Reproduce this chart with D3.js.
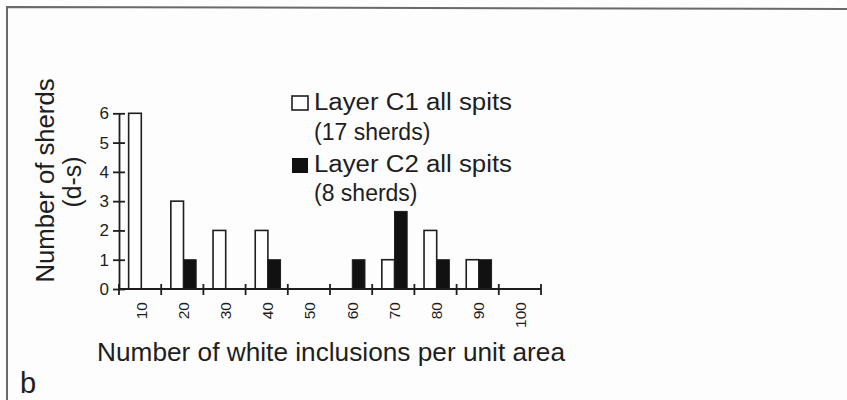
<!DOCTYPE html>
<html>
<head>
<meta charset="utf-8">
<script src="https://cdn.jsdelivr.net/npm/d3@7"></script>
<style>
  html, body { margin: 0; padding: 0; background: #fdfdfd; }
  svg text { font-family: "Liberation Sans", Arial, Helvetica, sans-serif; fill: #1e1e1e; }
</style>
</head>
<body>
<svg id="chart" width="847" height="400"></svg>
<script>
// Counts of sherds per white-inclusion density class
const categories = [10, 20, 30, 40, 50, 60, 70, 80, 90, 100];
const layerC1 = [6, 3, 2, 2, 0, 0, 1, 2, 1, 0];
const layerC2 = [0, 1, 0, 1, 0, 1, 2.65, 1, 1, 0];
const yTicks = [0, 1, 2, 3, 4, 5, 6];
const legendLabels = [
  ["Layer C1 all spits", "(17 sherds)"],
  ["Layer C2 all spits", "(8 sherds)"]
];
const xTitle = "Number of white inclusions per unit area";
const yTitle = ["Number of sherds", "(d-s)"];
const panelLabel = "b";

const svg = d3.select("#chart");
const ink = "#1e1e1e";

// panel frame (top and left edges)
svg.append("path")
  .attr("d", "M7,400 L7,7 L847,9")
  .attr("fill", "none").attr("stroke", "#6a6a6a").attr("stroke-width", 2);

const x = d3.scaleBand().domain(categories).range([119, 541]).padding(0);
const y = d3.scaleLinear().domain([0, 6]).range([289, 113.3]);
const barW = x.bandwidth() * 0.3;
const shift = 1.2;

const plot = svg.append("g");

// C1 bars (open) and C2 bars (solid) side by side in each class
plot.selectAll("rect.c1").data(categories.map((c, i) => ({c, v: layerC1[i]})).filter(d => d.v > 0))
  .join("rect").attr("class", "c1")
  .attr("x", d => x(d.c) + x.bandwidth() / 2 - barW + shift)
  .attr("y", d => y(d.v))
  .attr("width", barW)
  .attr("height", d => y(0) - y(d.v))
  .attr("fill", "#fff").attr("stroke", ink).attr("stroke-width", 1.6);

plot.selectAll("rect.c2").data(categories.map((c, i) => ({c, v: layerC2[i]})).filter(d => d.v > 0))
  .join("rect").attr("class", "c2")
  .attr("x", d => x(d.c) + x.bandwidth() / 2 + shift)
  .attr("y", d => y(d.v))
  .attr("width", barW)
  .attr("height", d => y(0) - y(d.v))
  .attr("fill", "#111").attr("stroke", ink).attr("stroke-width", 1);

// Y axis with ticks crossing the line
const yAxis = plot.append("g").attr("transform", "translate(119,0)")
  .call(d3.axisLeft(y).tickValues(yTicks).tickFormat(d3.format("d")).tickSize(6).tickSizeOuter(0));
yAxis.select(".domain").attr("stroke", ink).attr("stroke-width", 1.8);
yAxis.selectAll(".tick line").attr("x2", 6).attr("x1", -6).attr("stroke", ink).attr("stroke-width", 1.8);
yAxis.selectAll(".tick text").attr("x", -10).attr("font-size", 17).attr("fill", ink)
  .attr("font-family", "Liberation Sans, Arial, sans-serif");

// X axis: ticks on class boundaries, labels rotated at class centres
const xAxisG = plot.append("g");
xAxisG.append("line").attr("x1", 119).attr("x2", 541).attr("y1", y(0)).attr("y2", y(0))
  .attr("stroke", ink).attr("stroke-width", 1.8);
const bounds = categories.map(c => x(c)).concat([x(categories[categories.length - 1]) + x.bandwidth()]);
xAxisG.selectAll("line.tick").data(bounds).join("line").attr("class", "tick")
  .attr("x1", d => d).attr("x2", d => d).attr("y1", y(0) - 5).attr("y2", y(0) + 6)
  .attr("stroke", ink).attr("stroke-width", 1.8);
xAxisG.selectAll("text").data(categories).join("text")
  .attr("transform", d => `translate(${x(d) + x.bandwidth() / 2 + 1},302) rotate(-90)`)
  .attr("text-anchor", "end").attr("dominant-baseline", "central")
  .attr("font-size", 15.5).text(d => d);

// Axis titles
svg.append("text").attr("x", 97).attr("y", 361).attr("font-size", 25)
  .attr("textLength", 468).attr("lengthAdjust", "spacingAndGlyphs").text(xTitle);
svg.append("text").attr("transform", "translate(54,180.5) rotate(-90)")
  .attr("text-anchor", "middle").attr("font-size", 26)
  .attr("textLength", 204).attr("lengthAdjust", "spacingAndGlyphs").text(yTitle[0]);
svg.append("text").attr("transform", "translate(81,182) rotate(-90)")
  .attr("text-anchor", "middle").attr("font-size", 26)
  .attr("textLength", 51).attr("lengthAdjust", "spacingAndGlyphs").text(yTitle[1]);

// Legend
const legendRows = [110, 140, 172, 201];
const legend = svg.append("g");
legend.append("rect").attr("x", 292).attr("y", 96).attr("width", 16).attr("height", 14)
  .attr("fill", "#fff").attr("stroke", ink).attr("stroke-width", 1.6);
legend.append("rect").attr("x", 292).attr("y", 158).attr("width", 16).attr("height", 15)
  .attr("fill", "#111");
legendLabels.forEach((pair, i) => {
  legend.append("text").attr("x", 314).attr("y", legendRows[2 * i]).attr("font-size", 23)
    .attr("textLength", 198).attr("lengthAdjust", "spacingAndGlyphs").text(pair[0]);
  legend.append("text").attr("x", 314).attr("y", legendRows[2 * i + 1]).attr("font-size", 23)
    .text(pair[1]);
});

// Panel letter
svg.append("text").attr("x", 20).attr("y", 393).attr("font-size", 29).text(panelLabel);
</script>
</body>
</html>
